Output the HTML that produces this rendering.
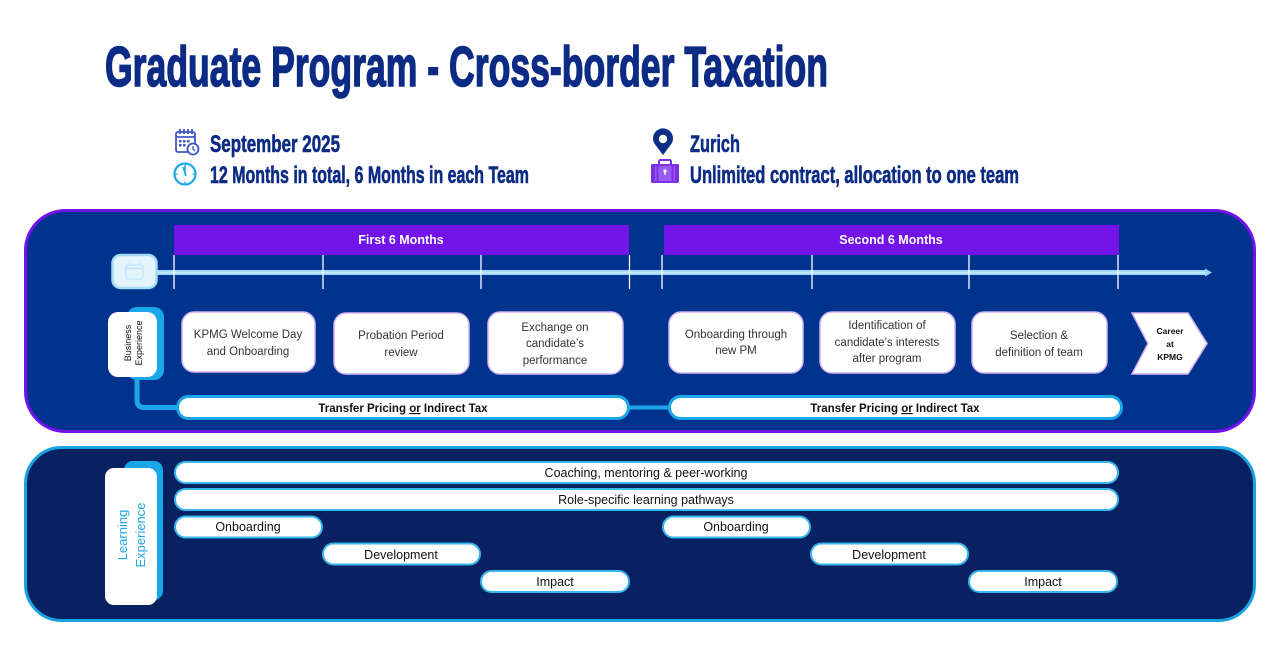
<!DOCTYPE html>
<html><head><meta charset="utf-8"><style>
html,body{margin:0;padding:0;background:#fff;width:1280px;height:646px;overflow:hidden}
svg{display:block}
.t{font-family:"Liberation Sans Narrow","Liberation Sans",sans-serif;font-weight:bold;fill:#0c2b85;stroke:#0c2b85}
.b{font-family:"Liberation Sans",sans-serif;font-size:11.5px;fill:#333;text-anchor:middle}
.p{font-family:"Liberation Sans",sans-serif;font-size:12.5px;fill:#111;text-anchor:middle}
</style></head><body>
<svg width="1280" height="646" viewBox="0 0 1280 646" xmlns="http://www.w3.org/2000/svg">
<rect width="1280" height="646" fill="#fff"/>
<!-- Title -->
<text class="t" x="105" y="86" font-size="57" stroke-width="1.6" textLength="723" lengthAdjust="spacingAndGlyphs">Graduate Program - Cross-border Taxation</text>
<!-- subtitle lines -->
<text class="t" x="210" y="152" font-size="24" stroke-width="0.6" textLength="130" lengthAdjust="spacingAndGlyphs">September 2025</text>
<text class="t" x="210" y="183" font-size="24" stroke-width="0.6" textLength="319" lengthAdjust="spacingAndGlyphs">12 Months in total, 6 Months in each Team</text>
<text class="t" x="690" y="152" font-size="24" stroke-width="0.6" textLength="50" lengthAdjust="spacingAndGlyphs">Zurich</text>
<text class="t" x="690" y="183" font-size="24" stroke-width="0.6" textLength="329" lengthAdjust="spacingAndGlyphs">Unlimited contract, allocation to one team</text>
<!-- calendar icon -->
<g fill="none" stroke="#3f55c6" stroke-width="1.8">
<rect x="176" y="132" width="19" height="20" rx="2"/>
<line x1="176" y1="137" x2="195" y2="137"/>
<line x1="180" y1="129" x2="180" y2="134"/><line x1="184" y1="129" x2="184" y2="134"/><line x1="188" y1="129" x2="188" y2="134"/><line x1="192" y1="129" x2="192" y2="134"/>
</g>
<g fill="#3f55c6"><rect x="179" y="140" width="2.5" height="2.5"/><rect x="183" y="140" width="2.5" height="2.5"/><rect x="187" y="140" width="2.5" height="2.5"/><rect x="179" y="144" width="2.5" height="2.5"/><rect x="183" y="144" width="2.5" height="2.5"/></g>
<circle cx="193" cy="149" r="5.5" fill="#fff" stroke="#3f55c6" stroke-width="1.8"/>
<path d="M193 146 L193 149 L195 151" stroke="#3f55c6" stroke-width="1.3" fill="none"/>
<!-- clock icon -->
<circle cx="185" cy="174" r="10.5" fill="none" stroke="#1ea8e8" stroke-width="2.2"/>
<path d="M185 166 L185 175 M183 167 L186 176" stroke="#1ea8e8" stroke-width="1.6" fill="none"/>
<g stroke="#1ea8e8" stroke-width="1.3"><line x1="185" y1="164.5" x2="185" y2="166.5"/><line x1="185" y1="181.5" x2="185" y2="183.5"/><line x1="175.5" y1="174" x2="177.5" y2="174"/><line x1="192.5" y1="174" x2="194.5" y2="174"/></g>
<!-- pin icon -->
<path d="M663 155 L655.5 145 A10 10 0 1 1 670.5 145 Z" fill="#0c2e86"/>
<circle cx="663" cy="139" r="4.2" fill="#fff"/>
<!-- briefcase -->
<rect x="659" y="160" width="12" height="5" rx="1.5" fill="none" stroke="#7b2fe6" stroke-width="2"/>
<rect x="651" y="164" width="28" height="19" rx="1.5" fill="#7b2fe6"/>
<rect x="655" y="166" width="20" height="15" fill="#9a5cf0"/>
<rect x="656.5" y="164" width="2" height="19" fill="#7b2fe6"/><rect x="671.5" y="164" width="2" height="19" fill="#7b2fe6"/>
<circle cx="665" cy="171" r="1.6" fill="#fff"/><rect x="664.3" y="171" width="1.4" height="4" fill="#fff"/>

<!-- top panel -->
<rect x="25.5" y="210.5" width="1229" height="221" rx="40" fill="#00338d" stroke="#7213ea" stroke-width="3"/>
<!-- purple bars -->
<rect x="174" y="225" width="455" height="30" fill="#7213ea"/>
<rect x="664" y="225" width="455" height="30" fill="#7213ea"/>
<text x="401" y="244" font-family="Liberation Sans,sans-serif" font-weight="bold" font-size="12.5" fill="#fff" text-anchor="middle">First 6 Months</text>
<text x="891" y="244" font-family="Liberation Sans,sans-serif" font-weight="bold" font-size="12.5" fill="#fff" text-anchor="middle">Second 6 Months</text>
<!-- timeline -->
<line x1="156" y1="272.5" x2="1206" y2="272.5" stroke="#9fd8f6" stroke-width="5"/>
<line x1="156" y1="272.5" x2="1206" y2="272.5" stroke="#c6e9fb" stroke-width="1.5"/>
<polygon points="1205,268.5 1212,272.5 1205,276.5" fill="#9fd8f6"/>
<g stroke="#fff" stroke-width="1.3">
<line x1="174" y1="255" x2="174" y2="289"/><line x1="323" y1="255" x2="323" y2="289"/><line x1="481" y1="255" x2="481" y2="289"/><line x1="629.5" y1="255" x2="629.5" y2="289"/>
<line x1="662" y1="255" x2="662" y2="289"/><line x1="812" y1="255" x2="812" y2="289"/><line x1="969" y1="255" x2="969" y2="289"/><line x1="1118" y1="255" x2="1118" y2="289"/>
</g>
<!-- calendar box -->
<rect x="112.5" y="255" width="44" height="33" rx="8" fill="#e4f4fd" stroke="#a4dbf6" stroke-width="2.5"/>
<g fill="none" stroke="#bfe3f5" stroke-width="1.2"><rect x="126" y="265" width="17" height="14" rx="1.5"/><line x1="126" y1="268.5" x2="143" y2="268.5"/><line x1="130" y1="262.5" x2="130" y2="266"/><line x1="139" y1="262.5" x2="139" y2="266"/></g>
<!-- business experience tab -->
<rect x="127" y="307" width="37" height="73" rx="10" fill="#1ba6ea"/>
<path d="M137 378 L137 400 Q137 407.5 144 407.5 L182 407.5" fill="none" stroke="#1ba6ea" stroke-width="5"/>
<rect x="108" y="312" width="49" height="65" rx="10" fill="#fff"/>
<g transform="translate(132,343) rotate(-90)" font-family="Liberation Sans,sans-serif" font-size="9" fill="#111" text-anchor="middle">
<text x="0" y="-1">Business</text><text x="0" y="10">Experience</text></g>
<!-- boxes -->
<g fill="#fff" stroke="#d2b3ef" stroke-width="1.5">
<rect x="182" y="312" width="133" height="60" rx="12"/>
<rect x="334" y="313" width="135" height="61" rx="12"/>
<rect x="488" y="312" width="135" height="62" rx="12"/>
<rect x="669" y="312" width="134" height="61" rx="12"/>
<rect x="820" y="312" width="135" height="61" rx="12"/>
<rect x="972" y="312" width="135" height="61" rx="12"/>
<polygon points="1132,313 1188,313 1207,343.5 1188,374 1132,374 1148,343.5"/>
</g>
<text class="b" x="248" y="338">KPMG Welcome Day</text><text class="b" x="248" y="355">and Onboarding</text>
<text class="b" x="401" y="339">Probation Period</text><text class="b" x="401" y="356">review</text>
<text class="b" x="555" y="331">Exchange on</text><text class="b" x="555" y="347">candidate’s</text><text class="b" x="555" y="364">performance</text>
<text class="b" x="736" y="338">Onboarding through</text><text class="b" x="736" y="354">new PM</text>
<text class="b" x="887" y="329">Identification of</text><text class="b" x="887" y="346">candidate’s interests</text><text class="b" x="887" y="362">after program</text>
<text class="b" x="1039" y="339">Selection &amp;</text><text class="b" x="1039" y="356">definition of team</text>
<g font-family="Liberation Sans,sans-serif" font-weight="bold" font-size="8.5" fill="#111" text-anchor="middle">
<text x="1170" y="334">Career</text><text x="1170" y="347">at</text><text x="1170" y="360">KPMG</text></g>
<!-- transfer bars -->
<line x1="628" y1="407.5" x2="670" y2="407.5" stroke="#1ba6ea" stroke-width="4"/>
<rect x="177.5" y="396.5" width="451" height="22" rx="11" fill="#fff" stroke="#1ba6ea" stroke-width="3"/>
<rect x="669.5" y="396.5" width="452" height="22" rx="11" fill="#fff" stroke="#1ba6ea" stroke-width="3"/>
<g font-family="Liberation Sans,sans-serif" font-weight="bold" font-size="11.5" fill="#111" text-anchor="middle">
<text x="403" y="412">Transfer Pricing <tspan text-decoration="underline">or</tspan> Indirect Tax</text>
<text x="895" y="412">Transfer Pricing <tspan text-decoration="underline">or</tspan> Indirect Tax</text></g>

<!-- bottom panel -->
<rect x="25.5" y="447.5" width="1229" height="173" rx="36" fill="#082160" stroke="#1aa3e3" stroke-width="3"/>
<!-- learning tab -->
<rect x="124" y="461" width="39" height="139" rx="9" fill="#1ba6ea"/>
<rect x="105" y="468" width="52" height="137" rx="9" fill="#fff"/>
<g transform="translate(131,535) rotate(-90)" font-family="Liberation Sans,sans-serif" font-size="13" fill="#1ea8e8" text-anchor="middle">
<text x="0" y="-4">Learning</text><text x="0" y="14">Experience</text></g>
<!-- pills -->
<g fill="#fff" stroke="#38b6ee" stroke-width="2">
<rect x="175" y="462" width="943" height="21" rx="10.5"/>
<rect x="175" y="489" width="943" height="21" rx="10.5"/>
<rect x="175" y="516.5" width="147" height="21" rx="10.5"/>
<rect x="323" y="543.5" width="157" height="21" rx="10.5"/>
<rect x="481" y="571" width="148" height="21" rx="10.5"/>
<rect x="663" y="516.5" width="147" height="21" rx="10.5"/>
<rect x="811" y="543.5" width="157" height="21" rx="10.5"/>
<rect x="969" y="571" width="148" height="21" rx="10.5"/>
</g>
<text class="p" x="646" y="477">Coaching, mentoring &amp; peer-working</text>
<text class="p" x="646" y="504">Role-specific learning pathways</text>
<text class="p" x="248" y="531">Onboarding</text>
<text class="p" x="401" y="559">Development</text>
<text class="p" x="555" y="586">Impact</text>
<text class="p" x="736" y="531">Onboarding</text>
<text class="p" x="889" y="559">Development</text>
<text class="p" x="1043" y="586">Impact</text>
</svg>
</body></html>
